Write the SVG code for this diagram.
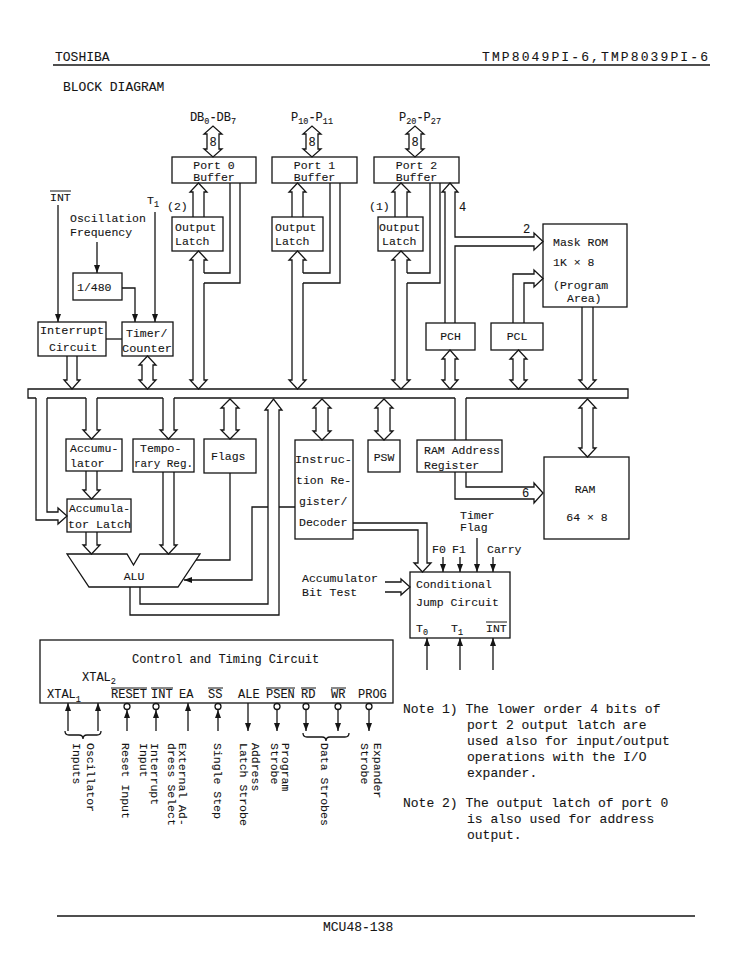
<svg xmlns="http://www.w3.org/2000/svg" width="756" height="972" viewBox="0 0 756 972">
<defs>
<style>
.l{fill:none;stroke:#151515;stroke-width:1.3;stroke-linejoin:miter}
.b{fill:#fff;stroke:#151515;stroke-width:1.3}
.t{font-family:"Liberation Mono","DejaVu Sans Mono",monospace;font-size:11.5px;fill:#151515;stroke:#151515;stroke-width:0.1}
.h{font-size:13px}
.c{font-size:12px}
.s{font-size:8.5px}
.m{text-anchor:middle}
.o{stroke:#151515;stroke-width:1}
</style>
<marker id="a" viewBox="0 0 8 6" refX="8" refY="3" markerWidth="8" markerHeight="6" markerUnits="userSpaceOnUse" orient="auto"><path d="M0 0L8 3L0 6z" fill="#151515"/></marker>
</defs>
<rect width="756" height="972" fill="#fff"/>

<g id="header">
<text class="t h" x="55" y="61">TOSHIBA</text>
<text class="t h" x="482" y="61" textLength="226" lengthAdjust="spacing">TMP8049PI-6,TMP8039PI-6</text>
<line class="l" x1="53" y1="65" x2="710" y2="65"/>
<text class="t h" x="63" y="91">BLOCK DIAGRAM</text>
</g>

<g id="port0-buffer">
<rect class="b" x="172" y="157" width="84" height="26"/>
<text class="t m" x="214" y="169">Port 0</text>
<text class="t m" x="214" y="181">Buffer</text>
<text class="t c m" x="213" y="121">DB<tspan class="s" dy="3">0</tspan><tspan dy="-3">-DB</tspan><tspan class="s" dy="3">7</tspan></text>
</g>
<g id="port0-latch">
<rect class="b" x="172" y="217" width="51" height="34"/>
<text class="t" x="175" y="231">Output</text>
<text class="t" x="175" y="245">Latch</text>
</g>
<g id="port1-buffer">
<rect class="b" x="272" y="157" width="85" height="26"/>
<text class="t m" x="314.5" y="169">Port 1</text>
<text class="t m" x="314.5" y="181">Buffer</text>
<text class="t c m" x="312" y="121">P<tspan class="s" dy="3">10</tspan><tspan dy="-3">-P</tspan><tspan class="s" dy="3">11</tspan></text>
</g>
<g id="port1-latch">
<rect class="b" x="272" y="217" width="51" height="34"/>
<text class="t" x="275" y="231">Output</text>
<text class="t" x="275" y="245">Latch</text>
</g>
<g id="port2-buffer">
<rect class="b" x="374" y="157" width="85" height="26"/>
<text class="t m" x="416.5" y="169">Port 2</text>
<text class="t m" x="416.5" y="181">Buffer</text>
<text class="t c m" x="420" y="121">P<tspan class="s" dy="3">20</tspan><tspan dy="-3">-P</tspan><tspan class="s" dy="3">27</tspan></text>
</g>
<g id="port2-latch">
<rect class="b" x="378" y="217" width="45" height="34"/>
<text class="t" x="379" y="231">Output</text>
<text class="t" x="382" y="245">Latch</text>
<text class="t" x="369" y="210">(1)</text>
</g>

<g id="inputs-left">
<text class="t" x="50" y="201">INT</text>
<line class="o" x1="50" y1="191" x2="71" y2="191"/>
<text class="t" x="70" y="222">Oscillation</text>
<text class="t" x="70" y="236">Frequency</text>
<text class="t" x="147" y="204">T<tspan class="s" dy="3">1</tspan></text>
<text class="t" x="167" y="210">(2)</text>
</g>
<g id="divider">
<rect class="b" x="73" y="273" width="49" height="27"/>
<text class="t" x="77" y="291">1/480</text>
</g>
<g id="interrupt-circuit">
<rect class="b" x="38" y="322" width="68" height="34"/>
<text class="t" x="40" y="334" textLength="64" lengthAdjust="spacingAndGlyphs">Interrupt</text>
<text class="t" x="49" y="351">Circuit</text>
</g>
<g id="timer-counter">
<rect class="b" x="122" y="322" width="51" height="34"/>
<text class="t" x="126" y="337">Timer/</text>
<text class="t" x="122" y="352" textLength="50" lengthAdjust="spacingAndGlyphs">Counter</text>
</g>

<g id="mask-rom">
<rect class="b" x="543" y="224" width="84" height="83"/>
<text class="t" x="553" y="246">Mask ROM</text>
<text class="t" x="553" y="266">1K × 8</text>
<text class="t" x="553" y="289">(Program</text>
<text class="t" x="567" y="302">Area)</text>
</g>
<g id="pch">
<rect class="b" x="426" y="323" width="49" height="27"/>
<text class="t m" x="450.5" y="340">PCH</text>
</g>
<g id="pcl">
<rect class="b" x="491" y="323" width="52" height="27"/>
<text class="t m" x="517" y="340">PCL</text>
</g>

<g id="accumulator">
<rect class="b" x="66" y="439" width="56" height="32"/>
<text class="t" x="70" y="452">Accumu-</text>
<text class="t" x="70" y="467">lator</text>
</g>
<g id="temporary-register">
<rect class="b" x="133" y="439" width="61" height="33"/>
<text class="t" x="140" y="452">Tempo-</text>
<text class="t" x="134" y="467" textLength="59" lengthAdjust="spacingAndGlyphs">rary Reg.</text>
</g>
<g id="flags">
<rect class="b" x="204" y="439" width="52" height="34"/>
<text class="t" x="211" y="460">Flags</text>
</g>
<g id="accumulator-latch">
<rect class="b" x="67" y="499" width="64" height="33"/>
<text class="t" x="69" y="512" textLength="61" lengthAdjust="spacingAndGlyphs">Accumula-</text>
<text class="t" x="68" y="528" textLength="63" lengthAdjust="spacingAndGlyphs">tor Latch</text>
</g>
<g id="alu">
<path class="b" d="M67 554L127 554L133.5 565L140 554L200 554L178 587L89 587Z"/>
<text class="t m" x="134" y="580">ALU</text>
</g>
<g id="instruction-register">
<rect class="b" x="295" y="440" width="58" height="99"/>
<text class="t" x="295" y="463" textLength="57" lengthAdjust="spacingAndGlyphs">Instruc-</text>
<text class="t" x="296" y="484">tion Re-</text>
<text class="t" x="299" y="505">gister/</text>
<text class="t" x="299" y="526">Decoder</text>
</g>
<g id="psw">
<rect class="b" x="368" y="440" width="32" height="32"/>
<text class="t m" x="384" y="461">PSW</text>
</g>
<g id="ram-address-register">
<rect class="b" x="417" y="440" width="85" height="32"/>
<text class="t" x="424" y="454" textLength="76" lengthAdjust="spacingAndGlyphs">RAM Address</text>
<text class="t" x="424" y="469">Register</text>
</g>
<g id="ram">
<rect class="b" x="544" y="457" width="85" height="82"/>
<text class="t m" x="585" y="493">RAM</text>
<text class="t m" x="587" y="521">64 × 8</text>
</g>
<g id="conditional-jump">
<rect class="b" x="410" y="572" width="100" height="66"/>
<text class="t" x="416" y="588">Conditional</text>
<text class="t" x="416" y="606">Jump Circuit</text>
<text class="t" x="416" y="632">T<tspan class="s" dy="3">0</tspan></text>
<text class="t" x="451" y="632">T<tspan class="s" dy="3">1</tspan></text>
<text class="t" x="486" y="632">INT</text>
<line class="o" x1="486" y1="622" x2="507" y2="622"/>
<text class="t" x="460" y="519">Timer</text>
<text class="t" x="460" y="531">Flag</text>
<text class="t" x="432" y="553">F0</text>
<text class="t" x="452" y="553">F1</text>
<text class="t" x="487" y="553">Carry</text>
<text class="t" x="302" y="582">Accumulator</text>
<text class="t" x="302" y="596">Bit Test</text>
</g>

<g id="control-timing">
<rect class="b" x="40" y="640" width="353" height="63"/>
<text class="t c" x="132" y="663">Control and Timing Circuit</text>
<text class="t c" x="82" y="681">XTAL<tspan class="s" dy="3">2</tspan></text>
<text class="t c" x="47" y="698">XTAL<tspan class="s" dy="4">1</tspan></text>
<text class="t c" x="111" y="698">RESET</text>
<line class="o" x1="111" y1="688" x2="147" y2="688"/>
<text class="t c" x="151" y="698">INT</text>
<line class="o" x1="151" y1="688" x2="173" y2="688"/>
<text class="t c" x="179" y="698">EA</text>
<text class="t c" x="208" y="698">SS</text>
<line class="o" x1="208" y1="688" x2="223" y2="688"/>
<text class="t c" x="238" y="698">ALE</text>
<text class="t c" x="266" y="698">PSEN</text>
<line class="o" x1="266" y1="688" x2="295" y2="688"/>
<text class="t c" x="301" y="698">RD</text>
<line class="o" x1="301" y1="688" x2="316" y2="688"/>
<text class="t c" x="331" y="698">WR</text>
<line class="o" x1="331" y1="688" x2="346" y2="688"/>
<text class="t c" x="358" y="698">PROG</text>
</g>

<g id="pin-labels">
<text class="t" transform="translate(87,743) rotate(90)">Oscillator</text>
<text class="t" transform="translate(73,743) rotate(90)">Inputs</text>
<text class="t" transform="translate(122,743) rotate(90)">Reset Input</text>
<text class="t" transform="translate(151,743) rotate(90)">Interrupt</text>
<text class="t" transform="translate(140,743) rotate(90)">Input</text>
<text class="t" transform="translate(179,743) rotate(90)">External Ad-</text>
<text class="t" transform="translate(168,743) rotate(90)">dress Select</text>
<text class="t" transform="translate(214,743) rotate(90)">Single Step</text>
<text class="t" transform="translate(252,743) rotate(90)">Address</text>
<text class="t" transform="translate(240,743) rotate(90)">Latch Strobe</text>
<text class="t" transform="translate(282,743) rotate(90)">Program</text>
<text class="t" transform="translate(271,743) rotate(90)">Strobe</text>
<text class="t" transform="translate(321,743) rotate(90)">Data Strobes</text>
<text class="t" transform="translate(374,743) rotate(90)">Expander</text>
<text class="t" transform="translate(361,743) rotate(90)">Strobe</text>
</g>

<g id="notes">
<text class="t h" x="403" y="713">Note 1) The lower order 4 bits of</text>
<text class="t h" x="467" y="729">port 2 output latch are</text>
<text class="t h" x="467" y="745">used also for input/output</text>
<text class="t h" x="467" y="761">operations with the I/O</text>
<text class="t h" x="467" y="777">expander.</text>
<text class="t h" x="403" y="807">Note 2) The output latch of port 0</text>
<text class="t h" x="467" y="823">is also used for address</text>
<text class="t h" x="467" y="839">output.</text>
</g>

<g id="footer">
<line class="l" x1="57" y1="916" x2="695" y2="916"/>
<text class="t h" x="323" y="931">MCU48-138</text>
</g>

<g id="connectors">
<path class="l" d="M36 398H28V389H628V398H466M455 398H174M163 398H97M86 398H47"/>
<path class="l" d="M207 134H204L213 126L222 134H219V149H222L213 157L204 149H207Z"/>
<path class="l" d="M306 134H303L312 126L321 134H318V149H321L312 157L303 149H306Z"/>
<path class="l" d="M409 134H406L415 126L424 134H421V149H424L415 157L406 149H409Z"/>
<text class="t c m" x="213" y="146">8</text>
<text class="t c m" x="312" y="146">8</text>
<text class="t c m" x="415" y="146">8</text>
<path class="l" d="M193 217V192H190L198.5 183L207 192H204V217"/>
<path class="l" d="M204 273V260H207L198.5 251L190 260H193V380H190L198.5 389L207 380H204V283"/>
<path class="l" d="M230 183V273H204M240 183V283H204"/>
<path class="l" d="M292 217V192H289L297.5 183L306 192H303V217"/>
<path class="l" d="M303 273V260H306L297.5 251L289 260H292V380H289L297.5 389L306 380H303V283"/>
<path class="l" d="M330 183V273H303M340 183V283H303"/>
<path class="l" d="M395 217V192H392L401 183L410 192H407V217"/>
<path class="l" d="M407 273V260H410L401 251L392 260H395V380H392L401 389L410 380H407V283"/>
<path class="l" d="M430 183V273H407M440 183V283H407"/>
<path class="l" d="M445 323V192H442L450 183L458 192H455V237H534V233L543 241.5L534 250V246H455V323"/>
<text class="t c" x="459" y="211">4</text>
<text class="t c" x="523" y="233">2</text>
<path class="l" d="M445 359H442L450 350L458 359H455V380H458L450 389L442 380H445Z"/>
<path class="l" d="M513 323V274H534V270L543 278.5L534 287V283H524V323"/>
<path class="l" d="M513 359H510L518.5 350L527 359H524V380H527L518.5 389L510 380H513Z"/>
<path class="l" d="M582 307V380H579L587.5 389L596 380H593V307"/>
<path class="l" d="M58 205V322" marker-end="url(#a)"/>
<path class="l" d="M155 212V322" marker-end="url(#a)"/>
<path class="l" d="M97 242V273" marker-end="url(#a)"/>
<path class="l" d="M122 288H135V322" marker-end="url(#a)"/>
<path class="l" d="M106 339H122"/>
<path class="l" d="M67 356V380H64L72 389L80 380H77V356"/>
<path class="l" d="M142 365H139L147.5 356L156 365H153V380H156L147.5 389L139 380H142Z"/>
<path class="l" d="M36 398V520H58V524L67 516L58 508V512H47V398"/>
<path class="l" d="M86 398V430H83L91.5 439L100 430H97V398"/>
<path class="l" d="M163 398V430H160L168.5 439L177 430H174V398"/>
<path class="l" d="M224 408H221L230 399L239 408H236V430H239L230 439L221 430H224Z"/>
<path class="l" d="M316 408H313L322 399L331 408H328V431H331L322 440L313 431H316Z"/>
<path class="l" d="M378 408H375L384 399L393 408H390V431H393L384 440L375 431H378Z"/>
<path class="l" d="M455 398V440M466 398V440"/>
<path class="l" d="M455 472V499H534V503L543 493L534 483V487H466V472"/>
<text class="t c" x="522" y="497">6</text>
<path class="l" d="M582 408H579L587.5 399L596 408H593V448H596L587.5 457L579 448H582Z"/>
<path class="l" d="M86 471V490H83L91.5 499L100 490H97V471"/>
<path class="l" d="M86 532V545H83L91.5 554L100 545H97V532"/>
<path class="l" d="M163 472V545H160L168.5 554L177 545H174V472"/>
<path class="l" d="M230 473V560H196"/>
<path class="l" d="M295 507H279M268 507H252V580H184" marker-end="url(#a)"/>
<path class="l" d="M140 587V604H268V410H265L273.5 399L282 410H279V615H130V587"/>
<path class="l" d="M353 523H427V563H431L422.5 572L414 563H418V530H353"/>
<path class="l" d="M385 582H401V579L410 587L401 595V592H385"/>
<path class="l" d="M443 557V572" marker-end="url(#a)"/>
<path class="l" d="M460 557V572" marker-end="url(#a)"/>
<path class="l" d="M477 538V572" marker-end="url(#a)"/>
<path class="l" d="M493 557V572" marker-end="url(#a)"/>
<path class="l" d="M427 670V638" marker-end="url(#a)"/>
<path class="l" d="M460 670V638" marker-end="url(#a)"/>
<path class="l" d="M493 670V638" marker-end="url(#a)"/>
<path class="l" d="M68 731V703" marker-end="url(#a)"/>
<path class="l" d="M98 731V703" marker-end="url(#a)"/>
<path class="l" d="M188 731V703" marker-end="url(#a)"/>
<path class="l" d="M127 731V710" marker-end="url(#a)"/>
<path class="l" d="M156 731V710" marker-end="url(#a)"/>
<path class="l" d="M218 731V710" marker-end="url(#a)"/>
<path class="l" d="M248 703V731" marker-end="url(#a)"/>
<path class="l" d="M277 710V731" marker-end="url(#a)"/>
<path class="l" d="M306 710V731" marker-end="url(#a)"/>
<path class="l" d="M338 710V731" marker-end="url(#a)"/>
<path class="l" d="M369 710V731" marker-end="url(#a)"/>
<circle class="b" cx="127" cy="706.5" r="3"/>
<circle class="b" cx="156" cy="706.5" r="3"/>
<circle class="b" cx="218" cy="706.5" r="3"/>
<circle class="b" cx="277" cy="706.5" r="3"/>
<circle class="b" cx="306" cy="706.5" r="3"/>
<circle class="b" cx="338" cy="706.5" r="3"/>
<circle class="b" cx="369" cy="706.5" r="3"/>
<path class="l" d="M65 731Q65 735 69 735H79Q83 735 83 739Q83 735 87 735H97Q101 735 101 731"/>
<path class="l" d="M303 733Q303 737 307 737H322Q326 737 326 741Q326 737 330 737H345Q349 737 349 733"/>
</g>
</svg>
